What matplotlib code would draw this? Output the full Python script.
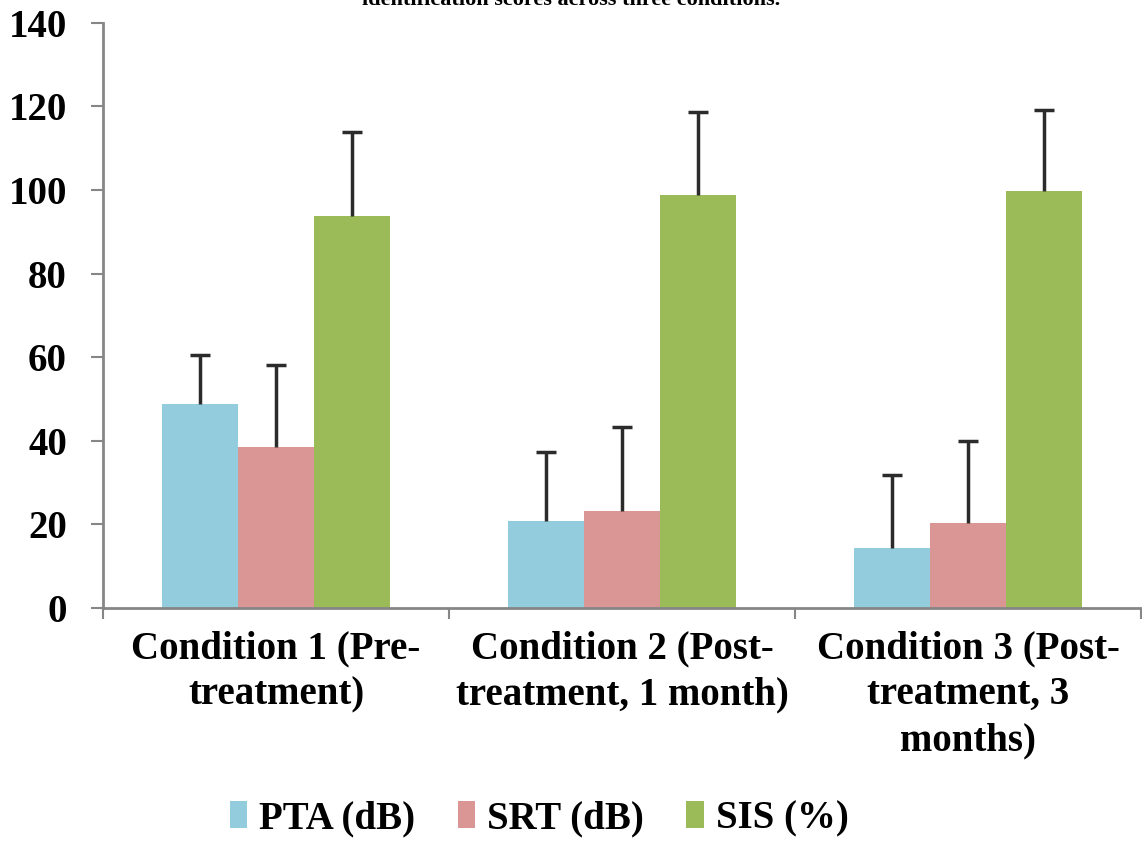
import numpy as np
import matplotlib.pyplot as plt
from matplotlib.ticker import FixedLocator

conditions = ["Condition 1 (Pre-\ntreatment)",
              "Condition 2 (Post-\ntreatment, 1 month)",
              "Condition 3 (Post-\ntreatment, 3\nmonths)"]
series = ["PTA (dB)", "SRT (dB)", "SIS (%)"]
pta = [48.9, 20.9, 14.4]
srt = [38.6, 23.3, 20.4]
sis = [93.8, 98.8, 99.8]
pta_sd = [11.5, 16.3, 17.3]
srt_sd = [19.4, 19.9, 19.6]
sis_sd = [20.1, 19.9, 19.4]
colors = ["#93CDDD", "#D99694", "#9BBB59"]

plt.rcParams['font.family'] = ['Liberation Serif', 'DejaVu Serif']
plt.rcParams['font.weight'] = 'bold'

fig = plt.figure(figsize=(11.42, 8.42), dpi=100)
ax = fig.add_axes([0.0902, 0.278, 0.909, 0.695])

x = np.arange(len(conditions))
width = 0.22
values = [pta, srt, sis]
errs = [pta_sd, srt_sd, sis_sd]
for i in range(3):
    pos = x + (i - 1) * width
    ax.bar(pos, values[i], width, color=colors[i], label=series[i], zorder=2)
    eb = ax.errorbar(pos, values[i], yerr=[np.zeros(3), errs[i]], fmt='none',
                     ecolor='#2b2b2b', elinewidth=2.5, capsize=7,
                     capthick=2.5, zorder=3)
    # only the upper cap is drawn
    eb[1][0].set_visible(False)

ax.set_xlim(-0.5, 2.5)
ax.set_ylim(0, 140)
ax.set_yticks(range(0, 141, 20))
ax.set_xticks(x)
ax.set_xticklabels(conditions, fontsize=28, fontweight='bold', linespacing=1.32)
ax.xaxis.set_minor_locator(FixedLocator([-0.5, 0.5, 1.5, 2.5]))
ax.tick_params(axis='x', which='major', length=0, pad=16)
ax.tick_params(axis='x', which='minor', length=8, color='#868686', width=1.5)
ax.tick_params(axis='y', length=9, color='#868686', width=1.5, pad=17,
               labelsize=28)
for lab in ax.get_yticklabels():
    lab.set_fontweight('bold')

for s in ['top', 'right']:
    ax.spines[s].set_visible(False)
for s in ['left', 'bottom']:
    ax.spines[s].set_color('#868686')
    ax.spines[s].set_linewidth(2)
ax.spines['bottom'].set_zorder(4)

fig.legend(loc='lower center', bbox_to_anchor=(0.472, -0.036), ncol=3,
           frameon=False, prop={'size': 28, 'weight': 'bold'},
           handlelength=0.45, handleheight=0.7, handletextpad=0.3,
           columnspacing=1.1)

fig.text(0.5, 1.0, "identification scores across three conditions.",
         ha='center', va='center', fontsize=16, fontweight='bold')

fig.savefig("out.png", dpi=100)
